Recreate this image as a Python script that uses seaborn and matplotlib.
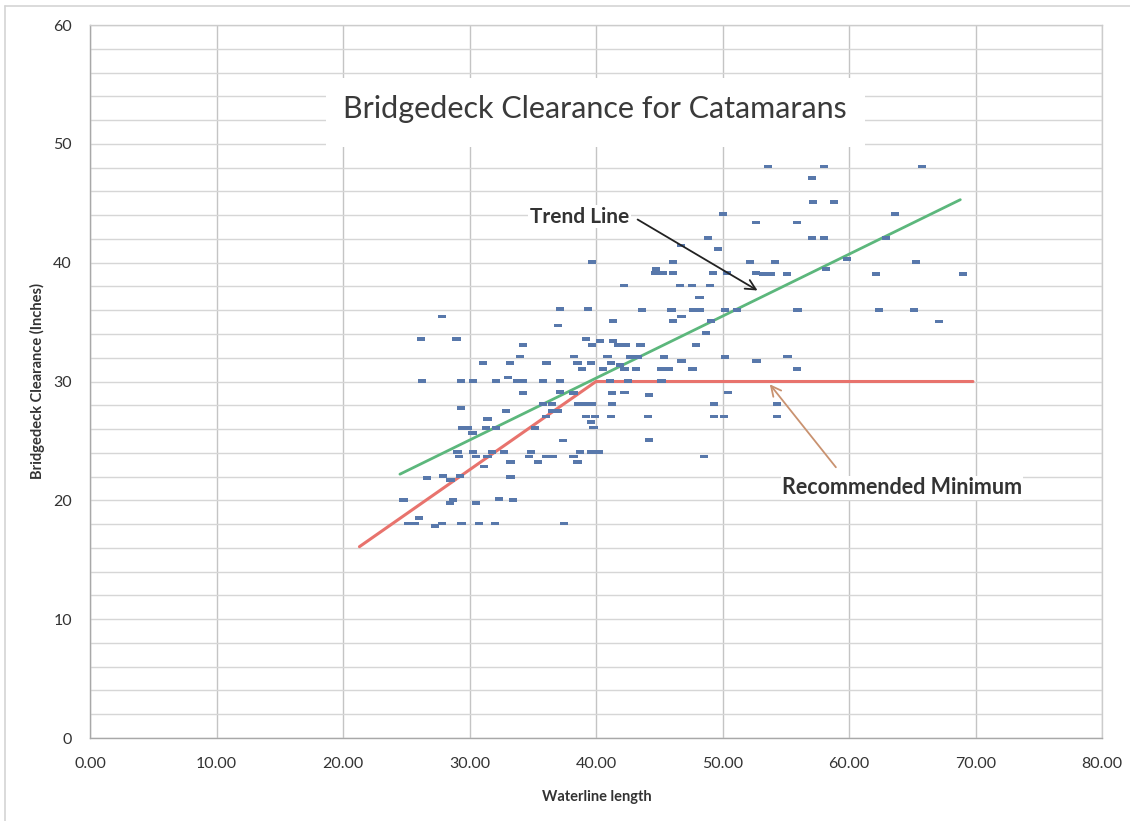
import numpy as np
import pandas as pd
import matplotlib
matplotlib.use("Agg")
import matplotlib.pyplot as plt
import seaborn as sns
from matplotlib.lines import Line2D
from matplotlib.patches import Rectangle

# ---- data ----
waterline = [
    27.80, 37.18, 39.39, 36.97, 41.32, 26.17, 28.96, 39.21, 39.71, 40.32,
    41.32, 41.72, 34.25, 33.99, 38.28, 40.92, 31.09, 33.20, 36.10, 38.55,
    39.60, 41.19, 38.87, 40.53, 26.22, 29.33, 30.30, 32.12, 33.02, 33.73,
    34.20, 35.79, 37.18, 34.25, 37.15, 38.21, 41.24, 29.33, 32.89, 35.79,
    36.50, 38.60, 39.13, 39.66, 41.24, 36.50, 37.02, 36.05, 39.21, 39.92,
    41.19, 39.60, 39.79, 31.41, 29.40, 29.90, 30.25, 31.30, 32.09, 35.18,
    37.37, 29.04, 29.15, 30.30, 30.51, 31.78, 31.41, 32.73, 34.86, 34.68,
    36.05, 36.62, 38.21, 38.74, 39.60, 40.20, 38.55, 35.44, 33.23, 31.17,
    26.62, 27.93, 28.51, 29.27, 33.23, 24.77, 28.67, 28.46, 30.51, 32.33,
    33.46, 26.03, 25.14, 25.69, 27.27, 27.80, 29.38, 30.77, 32.02, 37.49,
    52.65, 48.83, 46.72, 49.67, 39.66, 46.11, 52.17, 44.74, 44.66, 45.32,
    46.11, 49.23, 50.33, 52.65, 42.21, 46.64, 47.57, 49.01, 48.17, 43.66,
    45.98, 47.69, 48.22, 50.20, 51.17, 46.11, 46.77, 49.09, 48.67, 42.32,
    43.53, 47.91, 41.90, 42.24, 42.69, 43.34, 43.16, 45.40, 45.19, 45.77,
    46.77, 47.64, 50.20, 52.70, 41.11, 42.55, 45.19, 42.24, 44.19, 50.46,
    49.35, 44.09, 49.35, 50.12, 44.19, 48.56,
    53.62, 58.05, 65.79, 57.10, 57.18, 58.84, 50.06, 63.64, 55.87, 57.10,
    58.05, 62.92, 59.82, 65.30, 54.15, 53.23, 53.83, 55.12, 58.18, 62.13,
    68.99, 55.94, 62.37, 65.14, 67.14, 55.15, 55.87, 54.33, 54.33,
]
clearance = [
    35.46, 36.09, 36.09, 34.71, 35.10, 33.56, 33.56, 33.56, 33.08, 33.42,
    33.42, 33.08, 33.08, 32.10, 32.10, 32.10, 31.54, 31.54, 31.54, 31.54,
    31.54, 31.54, 31.06, 31.06, 30.05, 30.05, 30.05, 30.05, 30.33, 30.05,
    30.05, 30.05, 30.05, 29.01, 29.10, 29.01, 29.01, 27.75, 27.53, 28.09,
    28.09, 28.09, 28.09, 28.09, 28.09, 27.53, 27.53, 27.05, 27.05, 27.05,
    27.05, 26.62, 26.12, 26.83, 26.07, 26.07, 25.65, 26.07, 26.07, 26.07,
    25.03, 24.05, 23.68, 24.05, 23.68, 24.05, 23.68, 24.05, 24.05, 23.68,
    23.68, 23.68, 23.68, 24.05, 24.05, 24.05, 23.23, 23.23, 23.23, 22.84,
    21.91, 22.05, 21.72, 22.05, 21.99, 20.03, 20.03, 19.76, 19.76, 20.09,
    20.03, 18.54, 18.04, 18.04, 17.87, 18.04, 18.04, 18.04, 18.04, 18.04,
    43.38, 42.06, 41.44, 41.14, 40.07, 40.07, 40.07, 39.45, 39.12, 39.12,
    39.12, 39.12, 39.12, 39.12, 38.07, 38.07, 38.07, 38.07, 37.06, 36.03,
    36.03, 36.03, 36.03, 36.03, 36.03, 35.07, 35.46, 35.07, 34.07, 33.06,
    33.06, 33.06, 31.37, 31.04, 32.07, 32.07, 31.04, 32.07, 31.04, 31.04,
    31.73, 31.04, 32.07, 31.73, 30.05, 30.05, 30.05, 29.07, 28.87, 29.07,
    28.09, 27.05, 27.05, 27.05, 25.06, 23.68,
    48.09, 48.09, 48.09, 47.11, 45.09, 45.09, 44.08, 44.08, 43.38, 42.06,
    42.06, 42.06, 40.29, 40.04, 40.04, 39.06, 39.06, 39.06, 39.45, 39.06,
    39.06, 36.03, 36.03, 36.03, 35.04, 32.10, 31.06, 28.09, 27.05,
]

trend_x = [24.5, 68.8]
trend_y = [22.2, 45.3]
minimum_x = [21.3, 40.0, 69.8]
minimum_y = [16.1, 30.0, 30.0]

x_ticks = [0, 10, 20, 30, 40, 50, 60, 70, 80]
x_tick_labels = ["0.00", "10.00", "20.00", "30.00", "40.00",
                 "50.00", "60.00", "70.00", "80.00"]
y_ticks = [0, 10, 20, 30, 40, 50, 60]

title_text = "Bridgedeck Clearance for Catamarans"
x_label = "Waterline length"
y_label = "Bridgedeck Clearance (Inches)"

# ---- styling ----
sns.set_theme(style="white")
plt.rcParams['font.family'] = ['Lato', 'DejaVu Sans']

W, H = 1130, 821
fig = plt.figure(figsize=(W / 100, H / 100), dpi=100)
fig.patch.set_facecolor("white")
ax = fig.add_axes([90 / W, 1 - 738 / H, 1012 / W, 713 / H])

df = pd.DataFrame({"Waterline length": waterline, "Clearance": clearance})

dash = [(-1, -0.45), (1, -0.45), (1, 0.45), (-1, 0.45), (-1, -0.45)]
sns.scatterplot(data=df, x="Waterline length", y="Clearance", ax=ax,
                marker=dash, s=36, color="#5878ab", edgecolor="none",
                linewidth=0, zorder=4, legend=False)

sns.lineplot(x=trend_x, y=trend_y, ax=ax, color="#5cb77c", lw=2.0,
             zorder=3, sort=False, estimator=None)
sns.lineplot(x=minimum_x, y=minimum_y, ax=ax, color="#e8736d", lw=2.2,
             zorder=3, sort=False, estimator=None)

ax.set_xlim(0, 80)
ax.set_ylim(0, 60)
ax.set_xticks(x_ticks)
ax.set_xticklabels(x_tick_labels)
ax.set_yticks(y_ticks)
ax.set_yticks(np.arange(0, 61, 2), minor=True)
ax.set_axisbelow(True)
ax.grid(which="both", axis="y", color="#d6d6d6", lw=1.0)
ax.grid(which="major", axis="x", color="#c4c4c4", lw=1.0)
ax.tick_params(axis="both", which="major", direction="out", length=4,
               width=1, color="#a8a8a8", labelsize=11.5, labelcolor="#333333")
ax.tick_params(axis="y", which="minor", length=0)
ax.tick_params(axis="y", which="major", pad=9)
ax.tick_params(axis="x", which="major", pad=10)
for side in ["top", "right"]:
    ax.spines[side].set_color("#cccccc")
    ax.spines[side].set_linewidth(1.0)
for side in ["left", "bottom"]:
    ax.spines[side].set_color("#a8a8a8")
    ax.spines[side].set_linewidth(1.0)
ax.set_xlabel("")
ax.set_ylabel("")

# title box covering the grid
ax.add_patch(Rectangle((18.66, 49.75), 42.6, 5.8, facecolor="white",
                       edgecolor="none", zorder=1.5))
ax.text(39.9, 52.9, title_text, ha="center", va="center", fontsize=22,
        color="#3a3a3a", zorder=5)

# annotations
ax.text(38.7, 43.85, "Trend Line", ha="center", va="center", fontsize=15,
        fontweight="bold", color="#333333", zorder=5,
        bbox=dict(facecolor="white", edgecolor="none", pad=1))
ax.annotate("", xy=(52.96, 37.54), xytext=(43.1, 43.75),
            arrowprops=dict(arrowstyle="->", color="#222222", lw=1.3,
                            mutation_scale=18), zorder=5)
ax.text(64.2, 21.05, "Recommended Minimum", ha="center", va="center",
        fontsize=15.5, fontweight="bold", color="#333333", zorder=5,
        bbox=dict(facecolor="white", edgecolor="none", pad=1))
ax.annotate("", xy=(53.6, 29.95), xytext=(59.1, 22.6),
            arrowprops=dict(arrowstyle="->", color="#c99270", lw=1.3,
                            mutation_scale=18), zorder=5)

# axis labels
fig.text(597 / W, 1 - 797 / H, x_label, ha="center", va="center",
         fontsize=10.5, fontweight="bold", color="#333333")
fig.text(37 / W, 1 - 381 / H, y_label, ha="center", va="center",
         rotation=90, fontsize=10.5, fontweight="bold", color="#333333")

# chart-area border (scanned page)
fig.add_artist(Line2D([5 / W, 5 / W], [1 - 6 / H, 0], color="#d4d4d4",
                      lw=1.2, transform=fig.transFigure))
fig.add_artist(Line2D([5 / W, 1], [1 - 6 / H, 1 - 6 / H], color="#d4d4d4",
                      lw=1.2, transform=fig.transFigure))

fig.savefig("out.png", dpi=100, facecolor="white")
